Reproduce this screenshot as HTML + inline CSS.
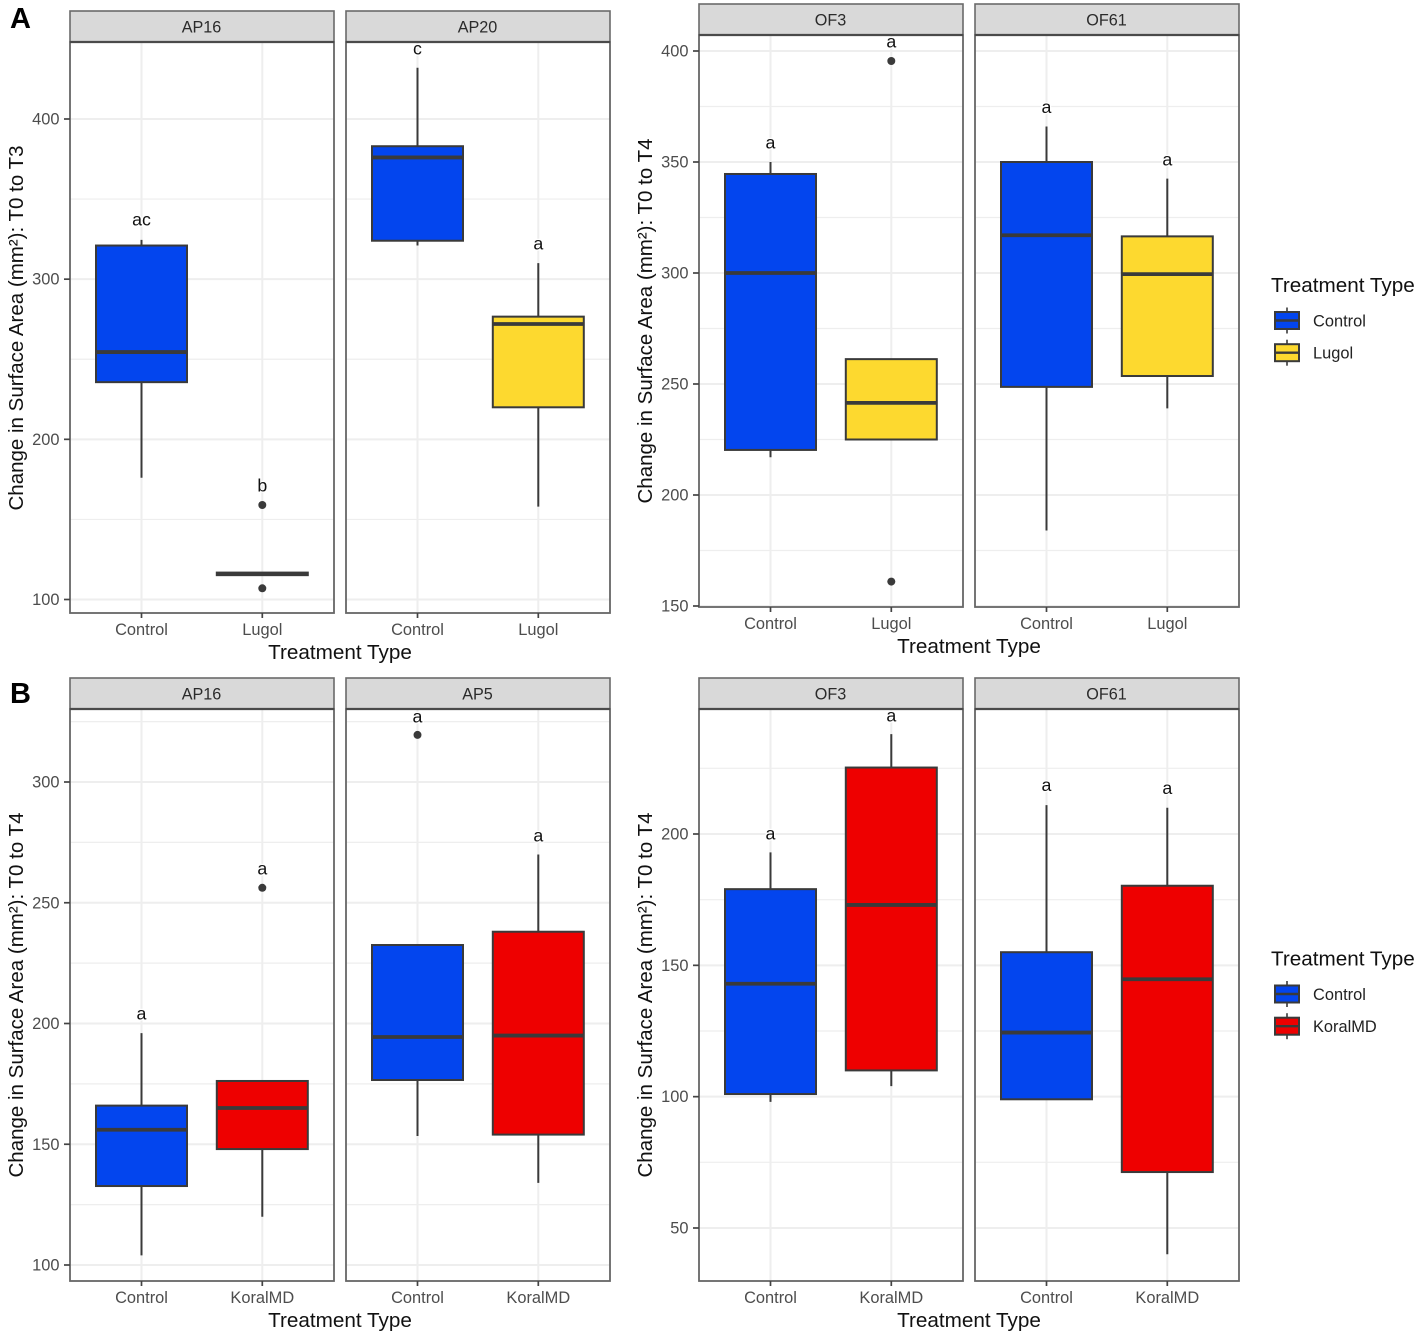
<!DOCTYPE html>
<html lang="en">
<head>
<meta charset="utf-8">
<title>Change in surface area by treatment type</title>
<style>
html,body{margin:0;padding:0;background:#fff;}
svg{display:block;font-family:"Liberation Sans",sans-serif;filter:blur(0.35px);}
</style>
</head>
<body>
<svg id="figure" xmlns="http://www.w3.org/2000/svg" width="1417" height="1334" viewBox="0 0 1417 1334">
  <text x="10" y="28" font-size="29" font-weight="700" fill="#000">A</text>
  <text x="10" y="703" font-size="29" font-weight="700" fill="#000">B</text>
</svg>
<script>
// ---- Data: one entry per facet panel, each holding [first category, second category] ----
const panelNames = ["AP16", "AP20", "OF3", "OF61", "AP16", "AP5", "OF3", "OF61"];
const categoriesA = ["Control", "Lugol"];
const categoriesB = ["Control", "KoralMD"];
const q1Values = [[235.7, 115.2], [324, 220], [220.3, 225], [248.7, 253.6], [132.7, 148], [176.6, 154], [101, 110], [99, 71.3]];
const medianValues = [[254.5, 116], [376, 272], [300, 241.5], [317, 299.5], [156, 165], [194.4, 195], [143, 173], [124.4, 144.7]];
const q3Values = [[321, 116.8], [383, 276.6], [344.6, 261.2], [350, 316.5], [166, 176.2], [232.5, 238], [179, 225.3], [155, 180.3]];
const whiskerLowValues = [[176, 115.2], [321, 158], [217, 225], [184, 239], [104, 120], [153.4, 134], [98, 104], [99, 40]];
const whiskerHighValues = [[324.5, 116.8], [432, 310], [350, 261.2], [366, 342.5], [196, 176.2], [232.5, 270], [193, 238], [211, 210]];
const outlierValues = [[[], [159, 107]], [[], []], [[], [395.5, 161]], [[], []], [[], [256.2]], [[319.5], []], [[], []], [[], []]];
const letterLabels = [["ac", "b"], ["c", "a"], ["a", "a"], ["a", "a"], ["a", "a"], ["a", "a"], ["a", "a"], ["a", "a"]];
const letterValues = [[337, 171], [443.6, 322], [358.5, 404], [374.6, 351], [204, 264], [327, 277.6], [200, 245], [218.4, 217.4]];
const yTicksALeft = [100, 200, 300, 400];
const yTicksARight = [150, 200, 250, 300, 350, 400];
const yTicksBLeft = [100, 150, 200, 250, 300];
const yTicksBRight = [50, 100, 150, 200];
const yTitleALeft = "Change in Surface Area (mm²): T0 to T3";
const yTitleOther = "Change in Surface Area (mm²): T0 to T4";
const xTitle = "Treatment Type";
const legendTitle = "Treatment Type";

// ---- Colours ----
const fillColours = {Control: "#0345EE", Lugol: "#FDD92F", KoralMD: "#EE0000"};
const INK = "#3a3a3a";

const svg = document.getElementById("figure");
const NS = "http://www.w3.org/2000/svg";

function make(tag, attrs, parent) {
  const node = document.createElementNS(NS, tag);
  for (const key in attrs) node.setAttribute(key, attrs[key]);
  (parent || svg).appendChild(node);
  return node;
}
function makeText(str, attrs, parent) {
  const node = make("text", attrs, parent);
  node.textContent = str;
  return node;
}
// Linear y axis through two calibration anchors.
function yAxis(v1, p1, v2, p2) {
  return function (v) { return p1 + (v - v1) * (p2 - p1) / (v2 - v1); };
}

function drawPanel(index, left, top, bottom, y, ticks, categories, showYAxis) {
  const width = 264;
  const stripTop = top - 31;
  const x = function (i) { return left + 71.5 + i * 120.8; };
  const halfBox = 45.5;
  const g = make("g", {});
  
  

  const bg = make("rect", {x: left, y: top, width: width, height: bottom - top, fill: "#fff"}, g);
  
  

  // grid lines
  const step = ticks[1] - ticks[0];
  for (let v = ticks[0] - step / 2; v <= ticks[ticks.length - 1] + step; v += step / 2) {
    const py = y(v);
    if (py <= top || py >= bottom) continue;
    const isMajor = ticks.indexOf(v) >= 0;
    const line = make("line", {x1: left, x2: left + width, y1: py, y2: py, stroke: "#eeeeee", "stroke-width": isMajor ? 2 : 1.2}, g);
    
    
  }
  categories.forEach(function (c, i) {
    const line = make("line", {x1: x(i), x2: x(i), y1: top, y2: bottom, stroke: "#eeeeee", "stroke-width": 2}, g);
    
    
  });

  // boxes
  categories.forEach(function (c, i) {
    const box = make("g", {}, g);
    
    
    const whisker = make("line", {x1: x(i), x2: x(i), y1: y(whiskerHighValues[index][i]), y2: y(whiskerLowValues[index][i]), stroke: INK, "stroke-width": 2}, box);
    
    
    const top3 = y(q3Values[index][i]);
    const bot1 = y(q1Values[index][i]);
    const body = make("rect", {x: x(i) - halfBox, y: top3, width: halfBox * 2, height: bot1 - top3, fill: fillColours[c], stroke: INK, "stroke-width": 2}, box);
    
    
    const med = make("line", {x1: x(i) - halfBox, x2: x(i) + halfBox, y1: y(medianValues[index][i]), y2: y(medianValues[index][i]), stroke: INK, "stroke-width": 3.8}, box);
    
    
    outlierValues[index][i].forEach(function (v) {
      const dot = make("circle", {cx: x(i), cy: y(v), r: 4, fill: INK}, box);
      
      
    });
    const letter = makeText(letterLabels[index][i], {x: x(i), y: y(letterValues[index][i]) + 5.5, "font-size": 17.8, fill: "#111", "text-anchor": "middle", stroke: "#fff", "stroke-width": 2.5, "paint-order": "stroke"}, box);
    
    
  });

  // border + strip
  const border = make("rect", {x: left, y: top, width: width, height: bottom - top, fill: "none", stroke: "#666", "stroke-width": 1.8}, g);
  
  
  const strip = make("rect", {x: left, y: stripTop, width: width, height: 31, fill: "#d9d9d9", stroke: "#6a6a6a", "stroke-width": 1.6}, g);
  
  
  const stripEdge = make("line", {x1: left, x2: left + width, y1: top, y2: top, stroke: "#4a4a4a", "stroke-width": 2.2}, g);
  
  
  const stripText = makeText(panelNames[index], {x: left + width / 2 - 0.5, y: stripTop + 21.5, "font-size": 16.2, fill: "#2b2b2b", "text-anchor": "middle"}, g);
  
  

  // x axis
  categories.forEach(function (c, i) {
    const tick = make("line", {x1: x(i), x2: x(i), y1: bottom, y2: bottom + 5, stroke: "#444", "stroke-width": 1.7}, g);
    
    
    const label = makeText(c, {x: x(i), y: bottom + 22.2, "font-size": 16.4, fill: "#4d4d4d", "text-anchor": "middle"}, g);
    
    
  });

  // y axis
  if (showYAxis) {
    ticks.forEach(function (v) {
      const tick = make("line", {x1: left - 6, x2: left, y1: y(v), y2: y(v), stroke: "#444", "stroke-width": 1.7}, g);
      
      
      const label = makeText(String(v), {x: left - 10.5, y: y(v) + 5.5, "font-size": 16.4, fill: "#4d4d4d", "text-anchor": "end"}, g);
      
      
    });
  }
}

function drawAxisTitles(left, bottom, centreY, yTitle) {
  const xt = makeText(xTitle, {x: left + 270, y: bottom + 46, "font-size": 20.7, fill: "#111", "text-anchor": "middle"});
  
  
  const tx = left - 47;
  const yt = makeText(yTitle, {x: tx, y: centreY, "font-size": 20.5, fill: "#111", "text-anchor": "middle", transform: "rotate(-90 " + tx + " " + centreY + ")"});
  
  
}

function drawLegend(dy, categories) {
  const g = make("g", {});
  
  
  const title = makeText(legendTitle, {x: 1271, y: 292 + dy, "font-size": 20.7, fill: "#111"}, g);
  
  
  categories.forEach(function (c, i) {
    const cy = 320.5 + i * 32.2 + dy;
    const entry = make("g", {}, g);
    
    
    const stem = make("line", {x1: 1287, x2: 1287, y1: cy - 13, y2: cy + 13, stroke: INK, "stroke-width": 1.6}, entry);
    
    
    const key = make("rect", {x: 1275, y: cy - 8.5, width: 24, height: 17, fill: fillColours[c], stroke: INK, "stroke-width": 2}, entry);
    
    
    const mid = make("line", {x1: 1275, x2: 1299, y1: cy, y2: cy, stroke: INK, "stroke-width": 2.4}, entry);
    
    
    const label = makeText(c, {x: 1313, y: cy + 6, "font-size": 16.4, fill: "#222"}, entry);
    
    
  });
}

const yALeft = yAxis(100, 599.5, 400, 119);
const yARight = yAxis(150, 606, 400, 51);
const yBLeft = yAxis(100, 1265, 300, 782);
const yBRight = yAxis(50, 1228, 200, 834);

drawPanel(0, 70, 42, 613, yALeft, yTicksALeft, categoriesA, true);
drawPanel(1, 346, 42, 613, yALeft, yTicksALeft, categoriesA, false);
drawAxisTitles(70, 613, 328, yTitleALeft);

drawPanel(2, 699, 35, 607, yARight, yTicksARight, categoriesA, true);
drawPanel(3, 975, 35, 607, yARight, yTicksARight, categoriesA, false);
drawAxisTitles(699, 607, 321, yTitleOther);
drawLegend(0, categoriesA);

drawPanel(4, 70, 709, 1281, yBLeft, yTicksBLeft, categoriesB, true);
drawPanel(5, 346, 709, 1281, yBLeft, yTicksBLeft, categoriesB, false);
drawAxisTitles(70, 1281, 995, yTitleOther);

drawPanel(6, 699, 709, 1281, yBRight, yTicksBRight, categoriesB, true);
drawPanel(7, 975, 709, 1281, yBRight, yTicksBRight, categoriesB, false);
drawAxisTitles(699, 1281, 995, yTitleOther);
drawLegend(673.5, categoriesB);
</script>
</body>
</html>
